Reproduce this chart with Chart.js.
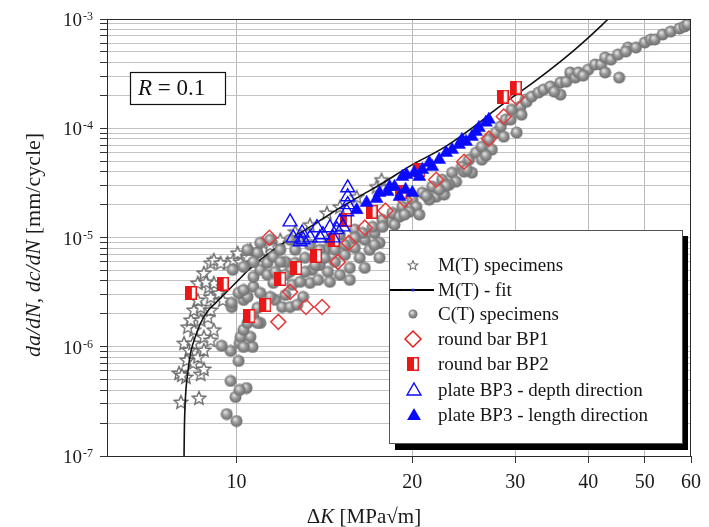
<!DOCTYPE html>
<html>
<head>
<meta charset="utf-8">
<script src="https://cdn.jsdelivr.net/npm/chart.js@4.4.0/dist/chart.umd.min.js"></script>
<style>
  html, body { margin: 0; padding: 0; background: #fff; }
  canvas { display: block; }
</style>
</head>
<body>
<canvas id="fcgChart" width="709" height="527"></canvas>
<script>
// axis ticks
const xTicks = [10, 20, 30, 40, 50, 60];
const yDecades = [1e-7, 1e-6, 1e-5, 1e-4, 1e-3];
const yMinor = [2, 3, 4, 5, 6, 7, 8, 9];

// [dK (MPa*sqrt(m)), da/dN (mm/cycle)]
const mtSpecimens = [
    [8.03, 3.12e-7], [8.62, 3.40e-7], [7.97, 5.75e-7], [8.19, 5.29e-7], [8.68, 5.63e-7], [8.79, 6.26e-7],
    [8.42, 7.11e-7], [8.13, 1.08e-6], [8.29, 9.35e-7], [8.58, 8.07e-7], [8.79, 9.35e-7], [8.45, 1.43e-6],
    [8.25, 1.52e-6], [8.79, 1.23e-6], [9.03, 1.15e-6], [9.14, 1.43e-6], [8.35, 1.76e-6], [8.68, 1.76e-6],
    [8.45, 2.17e-6], [8.93, 1.87e-6], [8.68, 2.31e-6], [9.03, 2.17e-6], [8.58, 2.68e-6], [9.03, 2.86e-6],
    [8.96, 3.53e-6], [9.14, 3.84e-6], [9.32, 3.11e-6], [9.47, 2.68e-6], [9.03, 5.86e-6], [9.14, 6.24e-6],
    [9.65, 5.86e-6], [9.88, 6.24e-6], [10.16, 5.98e-6], [10.44, 6.65e-6], [10.56, 7.71e-6], [10.04, 7.24e-6],
    [10.69, 5.86e-6], [10.98, 6.65e-6], [11.11, 7.71e-6], [8.79, 4.74e-6], [8.58, 3.84e-6], [9.39, 5.86e-6],
    [8.86, 3.93e-6], [11.42, 8.57e-6], [11.88, 9.53e-6], [12.60, 1.13e-5], [13.36, 1.31e-5], [14.28, 1.68e-5],
    [15.03, 1.91e-5], [16.06, 2.36e-5], [17.37, 2.92e-5], [17.71, 3.38e-5], [8.22, 7.57e-7], [8.42, 1.08e-6],
    [8.06, 5.52e-7]
];

const mtFit = [
    [8.13, 1.0e-7], [8.14, 1.73e-7], [8.17, 3.25e-7], [8.24, 5.52e-7], [8.35, 8.96e-7], [8.52, 1.28e-6],
    [8.68, 1.65e-6], [8.93, 2.13e-6], [9.21, 2.52e-6], [9.69, 3.31e-6], [10.08, 4.09e-6], [10.48, 5.06e-6],
    [11.56, 7.71e-6], [13.36, 1.25e-5], [14.84, 1.79e-5], [16.25, 2.38e-5], [17.80, 3.15e-5], [19.77, 4.48e-5],
    [22.82, 6.82e-5], [26.0, 1.12e-4], [27.76, 1.48e-4], [30.41, 2.11e-4], [32.01, 2.56e-4], [36.5, 4.41e-4],
    [40.0, 6.73e-4], [43.3, 1.0e-3]
];

const ctSpecimens = [
    [9.62, 2.42e-7], [10.0, 2.09e-7], [9.96, 3.47e-7], [10.40, 4.19e-7], [10.12, 4.02e-7], [9.77, 4.86e-7],
    [10.08, 7.41e-7], [10.65, 9.95e-7], [10.12, 1.08e-6], [10.16, 1.23e-6], [9.77, 9.16e-7], [9.43, 1.02e-6],
    [9.81, 2.31e-6], [10.28, 2.68e-6], [10.16, 3.11e-6], [10.69, 1.87e-6], [10.98, 1.65e-6], [10.86, 2.27e-6],
    [10.56, 1.23e-6], [10.28, 1.43e-6], [10.44, 1.65e-6], [10.86, 1.65e-6], [10.44, 2.86e-6], [10.08, 3.11e-6],
    [10.28, 3.31e-6], [10.69, 3.53e-6], [10.69, 4.36e-6], [10.98, 5.06e-6], [11.29, 4.55e-6], [11.56, 3.84e-6],
    [11.65, 2.68e-6], [11.97, 2.31e-6], [11.42, 2.86e-6], [10.98, 3.11e-6], [11.29, 5.86e-6], [11.56, 6.65e-6],
    [11.88, 7.71e-6], [10.86, 7.24e-6], [10.69, 5.98e-6], [10.28, 5.38e-6], [9.85, 5.06e-6], [9.81, 2.52e-6],
    [10.44, 7.71e-6], [10.98, 8.93e-6], [11.42, 9.53e-6], [12.35, 2.31e-6], [13.00, 2.86e-6], [13.36, 3.84e-6],
    [10.56, 1.91e-6], [10.28, 9.95e-7],
    [12.12, 5.98e-6], [12.35, 4.85e-6], [12.45, 3.69e-6], [12.85, 3.93e-6], [12.60, 7.71e-6], [13.10, 6.52e-6],
    [13.47, 5.06e-6], [13.79, 4.09e-6], [13.89, 5.61e-6], [14.34, 4.85e-6], [14.17, 7.71e-6], [14.74, 5.98e-6],
    [13.36, 8.57e-6], [12.85, 9.53e-6], [15.03, 4.55e-6], [15.33, 6.93e-6], [15.63, 5.27e-6], [15.94, 8.03e-6],
    [16.25, 6.52e-6], [16.58, 9.53e-6], [16.90, 7.71e-6], [14.45, 9.53e-6], [15.03, 1.06e-5], [15.94, 1.18e-5],
    [17.23, 1.10e-5], [17.57, 8.93e-6], [16.44, 1.10e-5], [13.89, 7.71e-6], [12.35, 9.53e-6], [11.88, 5.98e-6],
    [11.65, 4.85e-6], [12.12, 2.98e-6], [12.70, 2.42e-6],
    [12.12, 4.55e-6], [12.60, 5.86e-6], [13.10, 4.85e-6], [13.63, 5.61e-6], [14.17, 6.52e-6], [14.74, 7.71e-6],
    [15.33, 8.57e-6], [15.94, 9.93e-6], [17.23, 8.57e-6], [14.45, 3.93e-6], [15.63, 4.09e-6], [16.58, 5.27e-6],
    [17.57, 6.52e-6], [18.28, 1.39e-5],
    [17.10, 1.25e-5], [17.78, 1.45e-5], [18.49, 1.68e-5], [19.23, 1.91e-5], [20.0, 2.22e-5], [20.80, 2.57e-5],
    [21.63, 2.92e-5], [22.49, 3.38e-5], [23.39, 3.92e-5], [24.32, 4.45e-5], [25.00, 5.15e-5], [25.70, 5.97e-5],
    [26.30, 6.78e-5], [27.04, 7.86e-5], [27.79, 9.12e-5], [28.34, 1.04e-4], [28.90, 1.20e-4], [29.59, 1.48e-4],
    [30.17, 9.12e-5], [30.64, 1.58e-4], [31.26, 1.83e-4], [30.76, 1.33e-4], [26.30, 5.15e-5], [25.29, 3.92e-5],
    [23.76, 3.24e-5], [21.97, 2.36e-5], [20.31, 1.91e-5], [19.01, 1.55e-5], [17.78, 1.25e-5], [18.64, 1.31e-5],
    [19.77, 1.72e-5], [21.38, 2.22e-5], [23.12, 3.04e-5], [24.52, 4.00e-5], [27.36, 6.37e-5], [28.68, 8.37e-5],
    [22.67, 2.47e-5], [20.56, 1.62e-5], [21.13, 2.41e-5], [22.85, 2.98e-5], [24.80, 4.17e-5], [26.73, 5.61e-5],
    [29.47, 1.20e-4], [22.23, 2.74e-5], [19.39, 1.62e-5],
    [31.38, 1.75e-4], [32.01, 1.95e-4], [32.89, 2.12e-4], [33.54, 2.26e-4], [34.47, 2.41e-4], [35.85, 2.62e-4],
    [36.69, 2.67e-4], [37.27, 3.24e-4], [38.02, 2.91e-4], [38.46, 3.24e-4], [40.0, 3.44e-4], [41.11, 3.83e-4],
    [42.09, 3.83e-4], [42.76, 4.44e-4], [43.77, 4.25e-4], [45.0, 4.73e-4], [46.8, 5.48e-4], [46.42, 5.04e-4],
    [48.28, 5.48e-4], [50.0, 6.09e-4], [51.2, 6.49e-4], [52.0, 6.49e-4], [53.66, 7.21e-4], [55.37, 7.67e-4],
    [57.35, 8.19e-4], [58.5, 8.54e-4], [59.2, 8.91e-4], [35.85, 2.03e-4], [45.2, 2.91e-4], [42.76, 3.24e-4],
    [39.22, 3.03e-4], [35.0, 2.16e-4]
];

const roundBarBP1 = [
    [11.38, 9.93e-6], [11.79, 1.69e-6], [12.35, 3.18e-6], [13.15, 2.31e-6], [14.01, 2.31e-6], [14.91, 5.98e-6],
    [15.57, 8.93e-6], [16.58, 1.23e-5], [17.99, 1.76e-5], [19.39, 2.22e-5], [21.97, 3.38e-5], [24.52, 4.94e-5],
    [27.04, 8.04e-5], [28.68, 1.28e-4], [30.17, 1.91e-4]
];

const roundBarBP2 = [
    [8.35, 3.11e-6], [9.47, 3.77e-6], [10.52, 1.91e-6], [11.20, 2.42e-6], [11.88, 4.18e-6], [12.65, 5.27e-6],
    [13.68, 6.79e-6], [14.68, 9.53e-6], [15.39, 1.45e-5], [17.03, 1.72e-5], [19.16, 2.62e-5], [20.56, 4.17e-5],
    [28.56, 1.95e-4], [30.06, 2.36e-4]
];

const plateDepth = [
    [12.35, 1.39e-5], [12.50, 9.93e-6], [12.95, 1.10e-5], [13.36, 9.93e-6], [13.73, 1.23e-5], [14.06, 1.06e-5],
    [14.45, 1.23e-5], [14.85, 1.18e-5], [15.21, 1.25e-5], [15.50, 2.85e-5], [15.50, 2.36e-5], [15.50, 2.00e-5],
    [15.44, 1.72e-5], [15.03, 1.39e-5], [13.89, 9.93e-6], [12.85, 9.14e-6], [14.62, 9.93e-6], [13.00, 9.53e-6]
];

const plateLength = [
    [16.06, 1.79e-5], [16.70, 2.08e-5], [17.37, 2.26e-5], [18.14, 2.62e-5], [18.64, 2.92e-5], [19.23, 3.60e-5],
    [20.0, 2.57e-5], [20.15, 3.92e-5], [20.80, 4.17e-5], [21.63, 4.45e-5], [22.23, 5.15e-5], [22.85, 5.97e-5],
    [23.39, 6.37e-5], [24.04, 7.08e-5], [24.71, 7.54e-5], [25.29, 8.37e-5], [26.0, 1.01e-4], [26.73, 1.13e-4],
    [27.04, 1.20e-4], [25.70, 9.31e-5], [24.32, 7.86e-5], [21.38, 4.84e-5], [20.56, 3.60e-5], [17.57, 2.57e-5],
    [18.28, 2.92e-5], [19.01, 2.36e-5], [19.54, 3.75e-5], [19.47, 2.74e-5]
];

const SERIF = '"Liberation Serif", "Times New Roman", serif';
const RED = '#e81818';
const BLUE = '#0a0aff';

const toPoints = arr => arr.map(p => ({ x: p[0], y: p[1] }));

// marker sprites
function makeSphere(d) {
    const c = document.createElement('canvas');
    c.width = d; c.height = d;
    const g = c.getContext('2d');
    const r = d / 2;
    const grad = g.createRadialGradient(r * 0.75, r * 0.7, r * 0.1, r, r, r);
    grad.addColorStop(0, '#dedede');
    grad.addColorStop(0.45, '#969696');
    grad.addColorStop(1, '#666');
    g.fillStyle = grad;
    g.beginPath();
    g.arc(r, r, r - 0.5, 0, Math.PI * 2);
    g.fill();
    return c;
}

function makeStar(d, lw) {
    const c = document.createElement('canvas');
    c.width = d; c.height = d;
    const g = c.getContext('2d');
    const cx = d / 2, cy = d / 2 + 0.6, ro = d / 2 - 1, ri = ro * 0.45;
    g.beginPath();
    for (let i = 0; i < 10; i++) {
        const a = -Math.PI / 2 + i * Math.PI / 5;
        const rr = i % 2 ? ri : ro;
        g.lineTo(cx + rr * Math.cos(a), cy + rr * Math.sin(a));
    }
    g.closePath();
    g.fillStyle = '#fff';
    g.fill();
    g.strokeStyle = '#6c6c6c';
    g.lineWidth = lw;
    g.stroke();
    return c;
}

function makeHalfSquare(w, h) {
    const c = document.createElement('canvas');
    c.width = w; c.height = h;
    const g = c.getContext('2d');
    g.fillStyle = '#fff';
    g.fillRect(0, 0, w, h);
    g.fillStyle = RED;
    g.fillRect(0, 0, Math.round(w * 0.55), h);
    g.strokeStyle = RED;
    g.lineWidth = 1.5;
    g.strokeRect(0.75, 0.75, w - 1.5, h - 1.5);
    return c;
}

const sphereImg = makeSphere(13);
const starImg = makeStar(16, 1.4);
const halfSquareImg = makeHalfSquare(12, 14);
const sphereSmall = makeSphere(10);
const starSmall = makeStar(12, 1.1);

const yTickValues = [];
yDecades.forEach((d, i) => {
    yTickValues.push(d);
    if (i < yDecades.length - 1) yMinor.forEach(m => yTickValues.push(m * d));
});

function drawTriangle(ctx, x, y, r, filled) {
    ctx.beginPath();
    for (let i = 0; i < 3; i++) {
        const a = -Math.PI / 2 + i * 2 * Math.PI / 3;
        ctx.lineTo(x + r * Math.cos(a), y + r * Math.sin(a));
    }
    ctx.closePath();
    if (filled) { ctx.fillStyle = BLUE; ctx.fill(); }
    else { ctx.strokeStyle = BLUE; ctx.lineWidth = 1.4; ctx.stroke(); }
}

function drawLegend(chart) {
    const ctx = chart.ctx;
    const bx = 389, by = 230, bw = 293, bh = 213;
    ctx.fillStyle = '#000';
    ctx.fillRect(bx + 6, by + 6, bw, bh + 1);
    ctx.fillStyle = '#fff';
    ctx.fillRect(bx, by, bw, bh);
    ctx.strokeStyle = '#555';
    ctx.lineWidth = 1;
    ctx.strokeRect(bx + 0.5, by + 0.5, bw, bh);

    const baselines = [271, 296, 320, 345, 370, 396, 421];
    const sx = 413;
    const labels = chart.data.datasets.map(d => d.label);
    ctx.font = '19px ' + SERIF;
    ctx.textAlign = 'left';
    ctx.textBaseline = 'alphabetic';
    labels.forEach((label, i) => {
        ctx.fillStyle = '#151515';
        ctx.fillText(label, 438, baselines[i]);
    });

    ctx.drawImage(starSmall, sx - 6, baselines[0] - 6 - 6);

    ctx.strokeStyle = '#000';
    ctx.lineWidth = 2;
    ctx.beginPath();
    ctx.moveTo(390, baselines[1] - 6);
    ctx.lineTo(434, baselines[1] - 6);
    ctx.stroke();
    ctx.fillStyle = '#2020d0';
    ctx.beginPath();
    ctx.arc(sx, baselines[1] - 6, 1.6, 0, Math.PI * 2);
    ctx.fill();

    ctx.drawImage(sphereSmall, sx - 5, baselines[2] - 6 - 5);

    const dy = baselines[3] - 6;
    ctx.strokeStyle = RED;
    ctx.lineWidth = 1.5;
    ctx.beginPath();
    ctx.moveTo(sx - 8, dy); ctx.lineTo(sx, dy - 8); ctx.lineTo(sx + 8, dy); ctx.lineTo(sx, dy + 8);
    ctx.closePath();
    ctx.stroke();

    ctx.drawImage(halfSquareImg, sx - 6, baselines[4] - 6 - 7);

    drawTriangle(ctx, sx + 1, baselines[5] - 5, 8, false);
    drawTriangle(ctx, sx + 1, baselines[6] - 5, 8, true);
}

const decorations = {
    id: 'decorations',
    afterDraw(chart) {
        const ctx = chart.ctx;
        const area = chart.chartArea;
        const xs = chart.scales.x, ys = chart.scales.y;
        ctx.save();

        // frame
        ctx.strokeStyle = '#2a2a2a';
        ctx.lineWidth = 1;
        ctx.strokeRect(area.left + 0.5, area.top + 0.5, area.right - area.left - 1, area.bottom - area.top);

        // tick labels
        ctx.fillStyle = '#1a1a1a';
        ctx.textBaseline = 'alphabetic';
        ctx.font = '20px ' + SERIF;
        ctx.textAlign = 'center';
        xTicks.forEach(v => ctx.fillText(String(v), xs.getPixelForValue(v), 488));
        yDecades.forEach(v => {
            const py = ys.getPixelForValue(v);
            ctx.font = '19px ' + SERIF;
            ctx.textAlign = 'right';
            ctx.fillText('10', 82, py + 7);
            ctx.font = '12px ' + SERIF;
            ctx.textAlign = 'left';
            ctx.fillText(String(Math.round(Math.log10(v))), 83, py + 1);
        });

        // x title: ΔK [MPa√m]
        const xParts = [['Δ', ''], ['K', 'italic '], [' [MPa√m]', '']];
        let total = 0;
        xParts.forEach(p => { ctx.font = p[1] + '21px ' + SERIF; total += ctx.measureText(p[0]).width; });
        let tx = 364 - total / 2;
        ctx.textAlign = 'left';
        xParts.forEach(p => {
            ctx.font = p[1] + '21px ' + SERIF;
            ctx.fillText(p[0], tx, 523);
            tx += ctx.measureText(p[0]).width;
        });

        // y title
        const yParts = [['da/dN, dc/dN', 'italic '], [' [mm/cycle]', '']];
        ctx.save();
        ctx.translate(40, 245);
        ctx.rotate(-Math.PI / 2);
        total = 0;
        yParts.forEach(p => { ctx.font = p[1] + '22px ' + SERIF; total += ctx.measureText(p[0]).width; });
        tx = -total / 2;
        yParts.forEach(p => {
            ctx.font = p[1] + '22px ' + SERIF;
            ctx.fillText(p[0], tx, 0);
            tx += ctx.measureText(p[0]).width;
        });
        ctx.restore();

        // R = 0.1 box
        ctx.fillStyle = '#fff';
        ctx.fillRect(130, 72, 95, 32);
        ctx.strokeStyle = '#111';
        ctx.lineWidth = 1.2;
        ctx.strokeRect(130.5, 72.5, 95, 32);
        ctx.fillStyle = '#111';
        ctx.font = 'italic 23px ' + SERIF;
        ctx.textAlign = 'left';
        ctx.fillText('R', 138, 95);
        const rw = ctx.measureText('R').width;
        ctx.font = '23px ' + SERIF;
        ctx.fillText(' = 0.1', 138 + rw, 95);

        drawLegend(chart);
        ctx.restore();
    }
};

const config = {
    type: 'scatter',
    data: {
        datasets: [
            {
                label: 'M(T) specimens',
                data: toPoints(mtSpecimens),
                pointStyle: starImg,
                pointRadius: 6,
                order: 8
            },
            {
                label: 'M(T) - fit',
                data: toPoints(mtFit),
                showLine: true,
                borderColor: '#111',
                borderWidth: 1.6,
                pointRadius: 0,
                cubicInterpolationMode: 'monotone',
                order: 7
            },
            {
                label: 'C(T) specimens',
                data: toPoints(ctSpecimens),
                pointStyle: sphereImg,
                pointRadius: 6,
                order: 6
            },
            {
                label: 'round bar BP1',
                data: toPoints(roundBarBP1),
                pointStyle: 'rectRot',
                pointRadius: 7.5,
                borderColor: '#e43c3c',
                backgroundColor: 'rgba(0,0,0,0)',
                borderWidth: 1.5,
                order: 5
            },
            {
                label: 'round bar BP2',
                data: toPoints(roundBarBP2),
                pointStyle: halfSquareImg,
                pointRadius: 6,
                order: 4
            },
            {
                label: 'plate BP3 - depth direction',
                data: toPoints(plateDepth),
                pointStyle: 'triangle',
                pointRadius: 8,
                borderColor: BLUE,
                backgroundColor: 'rgba(0,0,0,0)',
                borderWidth: 1.4,
                order: 3
            },
            {
                label: 'plate BP3 - length direction',
                data: toPoints(plateLength),
                pointStyle: 'triangle',
                pointRadius: 7.5,
                borderColor: BLUE,
                backgroundColor: BLUE,
                borderWidth: 0.5,
                order: 2
            }
        ]
    },
    options: {
        responsive: false,
        animation: false,
        events: [],
        layout: { padding: { top: 19, right: 18, bottom: 0, left: 0 } },
        plugins: {
            legend: { display: false },
            tooltip: { enabled: false }
        },
        scales: {
            x: {
                type: 'logarithmic',
                min: 6,
                max: 60,
                afterBuildTicks: scale => { scale.ticks = xTicks.map(v => ({ value: v })); },
                afterFit: scale => { scale.height = 71; },
                ticks: { display: false },
                border: { display: false },
                grid: {
                    color: c => (c.tick && c.tick.value === 60) ? 'rgba(0,0,0,0)' : '#b9b9b9',
                    lineWidth: 1,
                    drawTicks: true,
                    tickLength: 7,
                    tickColor: '#333'
                }
            },
            y: {
                type: 'logarithmic',
                min: 1e-7,
                max: 1e-3,
                afterBuildTicks: scale => { scale.ticks = yTickValues.map(v => ({ value: v })); },
                afterFit: scale => { scale.width = 107; },
                ticks: { display: false },
                border: { display: false },
                grid: {
                    color: '#c3c3c3',
                    lineWidth: 1,
                    drawTicks: true,
                    tickLength: 7,
                    tickColor: '#333'
                }
            }
        }
    },
    plugins: [decorations]
};

const ctx = document.getElementById('fcgChart');
const fcgChart = new Chart(ctx, config);
</script>
</body>
</html>
